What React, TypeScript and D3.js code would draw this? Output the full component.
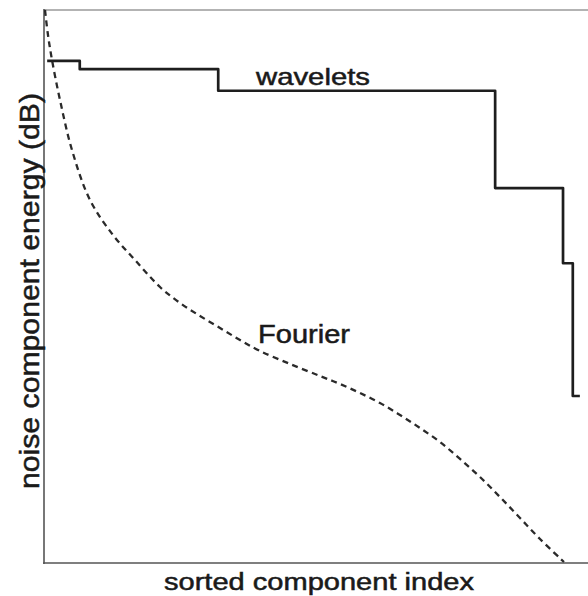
import React from "react";
import * as d3 from "d3";

// Component index (0..100, relative) and noise energy (relative dB, 0..100)
const fourierIndex = [0, 0.55, 1.29, 2.76, 4.97, 8.29, 12.52, 16.57, 21.18, 24.86, 28.55, 32.23, 35.91, 39.59, 45.12, 50.64, 54.33, 58.01, 61.69, 65.38, 69.06, 72.74, 76.43, 80.11, 83.79, 87.48, 91.16, 95.58];
const fourierEnergy = [100, 95.48, 90.96, 83.73, 74.68, 65.64, 59.31, 54.79, 49.91, 47.02, 44.67, 42.5, 40.33, 38.34, 35.99, 33.82, 32.37, 30.74, 28.93, 26.76, 24.41, 21.88, 18.81, 15.55, 11.93, 8.14, 4.34, 0.18];

const waveletIndex = [0.4, 6.4, 31.9, 82.9, 95.4, 97.2, 98.5];
const waveletEnergy = [90.8, 89.3, 85.4, 67.8, 54.2, 30.2, 30.2];

const seriesLabels = ["wavelets", "Fourier"];
const xAxisLabel = "sorted component index";
const yAxisLabel = "noise component energy (dB)";

const W = 588;
const H = 596;
const left = 45;
const right = 588;
const top = 10;
const bottom = 563;

export default function App() {
  const x = d3.scaleLinear().domain([0, 100]).range([left, right]);
  const y = d3.scaleLinear().domain([0, 100]).range([bottom, top]);

  const fourierPts: [number, number][] = fourierIndex.map((v, i) => [x(v), y(fourierEnergy[i])]);
  const fourierPath = d3.line().curve(d3.curveCatmullRom.alpha(0.5))(fourierPts) || "";

  const wavePts: [number, number][] = waveletIndex.map((v, i) => [x(v), y(waveletEnergy[i])]);
  const wavePath = d3.line().curve(d3.curveStepAfter)(wavePts) || "";

  const font = "'Liberation Sans', Arial, Helvetica, sans-serif";
  const ink = "#1a1a1a";

  return (
    <svg
      width={W}
      height={H}
      style={{ position: "absolute", left: 0, top: 0, background: "#fff" }}
    >
      {/* top frame line */}
      <line x1={left - 1} x2={right} y1={top} y2={top} stroke="#9a9a9a" strokeWidth={1.3} />
      {/* axes */}
      <line x1={left - 1} x2={left - 1} y1={top - 1} y2={bottom + 1} stroke="#555" strokeWidth={1.6} />
      <line x1={left - 2} x2={right} y1={bottom} y2={bottom} stroke="#555" strokeWidth={1.6} />

      <path d={fourierPath} fill="none" stroke="#2a2a2a" strokeWidth={2.3} strokeDasharray="6,4.5" />
      <path d={wavePath} fill="none" stroke="#1e1e1e" strokeWidth={2.7} strokeLinejoin="round" />

      <g fontFamily={font} fill={ink} stroke={ink} strokeWidth={0.5}>
        <text x={256} y={85} fontSize={24} textLength={114} lengthAdjust="spacingAndGlyphs">
          {seriesLabels[0]}
        </text>
        <text x={258} y={343} fontSize={25} textLength={92} lengthAdjust="spacingAndGlyphs">
          {seriesLabels[1]}
        </text>
        <text x={164} y={590} fontSize={23} textLength={310} lengthAdjust="spacingAndGlyphs">
          {xAxisLabel}
        </text>
        <text
          transform={`translate(39, 489) rotate(-90)`}
          x={0}
          y={0}
          fontSize={28}
          textLength={396}
          lengthAdjust="spacingAndGlyphs"
        >
          {yAxisLabel}
        </text>
      </g>
    </svg>
  );
}
